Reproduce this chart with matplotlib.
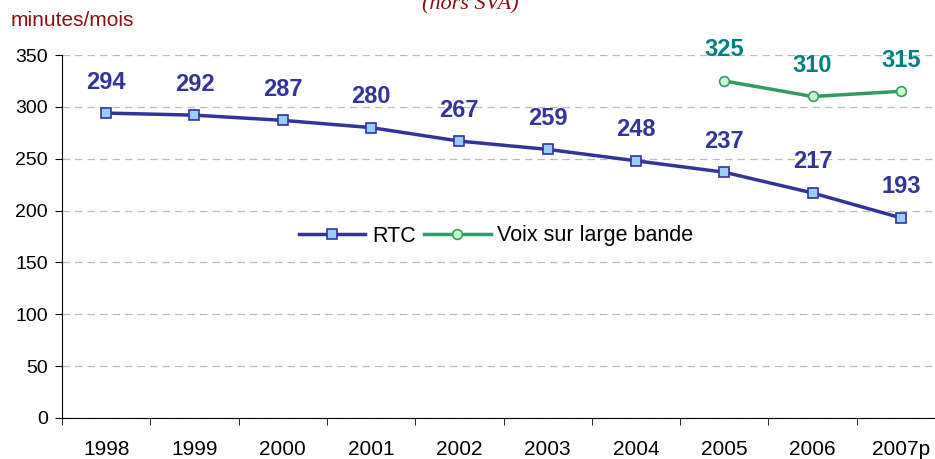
import matplotlib.pyplot as plt
import numpy as np

plt.rcParams["font.family"] = ["Liberation Sans", "DejaVu Sans"]

# minutes per month by year
years = ["1998", "1999", "2000", "2001", "2002", "2003", "2004", "2005", "2006", "2007p"]
rtc = [294, 292, 287, 280, 267, 259, 248, 237, 217, 193]
vlb_years = ["2005", "2006", "2007p"]
vlb = [325, 310, 315]

blue = "#333399"
teal = "#008080"
green = "#339966"
darkred = "#8B1010"

fig = plt.figure(figsize=(9.35, 4.59), dpi=100)
ax = fig.add_axes([62 / 935, 1 - 418 / 459, 883 / 935, 363 / 459])

x = np.arange(len(years))
xv = [years.index(y) for y in vlb_years]

ax.plot(x, rtc, color=blue, lw=2.5, marker="s", ms=7, mfc="#99CCFF", mec=blue, mew=1.2,
        label="RTC", zorder=3)
ax.plot(xv, vlb, color=green, lw=2.5, marker="o", ms=7, mfc="#CCFFCC", mec=green, mew=1.2,
        label="Voix sur large bande", zorder=3)

for i, v in zip(x, rtc):
    ax.annotate(str(v), (i, v), xytext=(0, 31), textcoords="offset pixels", ha="center",
                va="center", fontsize=17, fontweight="bold", color=blue)
for i, v in zip(xv, vlb):
    ax.annotate(str(v), (i, v), xytext=(0, 31), textcoords="offset pixels", ha="center",
                va="center", fontsize=17, fontweight="bold", color=teal)

ax.set_xlim(-0.5, len(years) - 0.5)
ax.set_ylim(0, 350)
ax.set_yticks(range(0, 351, 50))
ax.set_xticks(x)
ax.set_xticklabels(years)
ax.set_xticks(np.arange(-0.5, len(years), 1), minor=True)
ax.tick_params(axis="x", which="major", length=0, pad=16, labelsize=15)
ax.tick_params(axis="x", which="minor", length=5, direction="out")
ax.tick_params(axis="y", length=5, direction="out", labelsize=14, pad=5)

ax.yaxis.grid(True, color="#BBBBBB", ls=(0, (6, 4)), lw=0.9)
ax.set_axisbelow(True)
for s in ["top", "right"]:
    ax.spines[s].set_visible(False)

ax.legend(loc="center", bbox_to_anchor=(496 / 935, 1 - 236 / 459), bbox_transform=fig.transFigure,
          ncol=2, frameon=False, fontsize=15.5, handlelength=3.1, columnspacing=0.4,
          handletextpad=0.3, borderpad=0)

fig.text(11 / 935, 1 - 20 / 459, "minutes/mois", color=darkred, fontsize=15, va="center")
fig.text(470 / 935, 1 - 5 / 459, "(hors SVA)", color=darkred, fontsize=16, style="italic",
         family="Liberation Serif", ha="center", va="center")

fig.savefig("out.png", dpi=100)
